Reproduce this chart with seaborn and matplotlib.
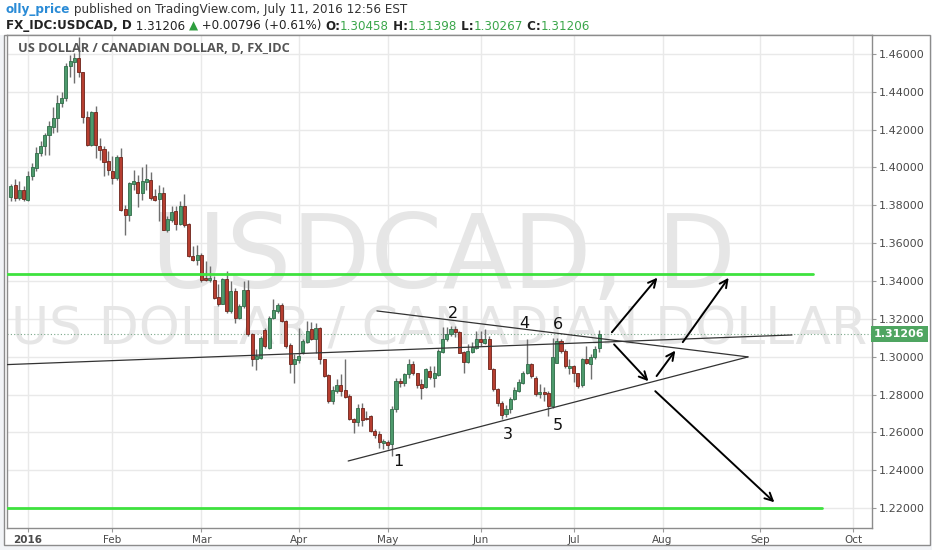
import numpy as np
import pandas as pd
import seaborn as sns
import matplotlib.pyplot as plt
from matplotlib.patches import Rectangle

# daily USDCAD candles (Dec 28 2015 .. Jul 11 2016)
opens = [1.3844, 1.3907, 1.3839, 1.3879, 1.3830, 1.3953, 1.3997, 1.4076, 1.4111, 1.4173,
         1.4213, 1.4261, 1.4340, 1.4366, 1.4537, 1.4556, 1.4577, 1.4503, 1.4266, 1.4120,
         1.4294, 1.4115, 1.4097, 1.4032, 1.3979, 1.3944, 1.4055, 1.3781, 1.3751, 1.3914,
         1.3925, 1.3865, 1.3925, 1.3936, 1.3848, 1.3834, 1.3865, 1.3668, 1.3725, 1.3768,
         1.3703, 1.3795, 1.3702, 1.3531, 1.3510, 1.3540, 1.3417, 1.3405, 1.3408, 1.3315,
         1.3281, 1.3412, 1.3241, 1.3347, 1.3206, 1.3267, 1.3352, 1.3118, 1.2986, 1.2995,
         1.3141, 1.3048, 1.3206, 1.3241, 1.3271, 1.3188, 1.3060, 1.2960, 1.2983, 1.3025,
         1.3078, 1.3144, 1.3095, 1.3153, 1.2986, 1.2902, 1.2766, 1.2819, 1.2849, 1.2823,
         1.2793, 1.2670, 1.2656, 1.2731, 1.2678, 1.2687, 1.2608, 1.2591, 1.2543, 1.2550,
         1.2538, 1.2722, 1.2872, 1.2863, 1.2907, 1.2960, 1.2912, 1.2854, 1.2842, 1.2924,
         1.2889, 1.2902, 1.3025, 1.3095, 1.3118, 1.3148, 1.3130, 1.3025, 1.2972, 1.3025,
         1.3048, 1.3095, 1.3074, 1.3095, 1.2937, 1.2831, 1.2757, 1.2696, 1.2726, 1.2779,
         1.2819, 1.2863, 1.2912, 1.2960, 1.2889, 1.2801, 1.2814, 1.2810, 1.2740, 1.2965,
         1.3083, 1.3030, 1.2942, 1.2951, 1.2912, 1.2849, 1.2986, 1.2960, 1.3000, 1.30458]
highs = [1.3914, 1.3939, 1.3927, 1.3900, 1.3979, 1.4023, 1.4108, 1.4138, 1.4181, 1.4243,
         1.4322, 1.4384, 1.4401, 1.4551, 1.4595, 1.4603, 1.4690, 1.4507, 1.4296, 1.4301,
         1.4327, 1.4155, 1.4111, 1.4085, 1.4058, 1.4067, 1.4103, 1.3804, 1.3921, 1.3985,
         1.3962, 1.4002, 1.4020, 1.3974, 1.3886, 1.3909, 1.3897, 1.3742, 1.3795, 1.3795,
         1.3821, 1.3862, 1.3707, 1.3584, 1.3593, 1.3549, 1.3505, 1.3478, 1.3426, 1.3382,
         1.3417, 1.3452, 1.3399, 1.3364, 1.3281, 1.3399, 1.3408, 1.3127, 1.3039, 1.3109,
         1.3153, 1.3215, 1.3303, 1.3285, 1.3285, 1.3194, 1.3074, 1.3013, 1.3153, 1.3092,
         1.3188, 1.3183, 1.3179, 1.3157, 1.2990, 1.2907, 1.2845, 1.2881, 1.2907, 1.2990,
         1.2802, 1.2678, 1.2749, 1.2754, 1.2714, 1.2691, 1.2617, 1.2608, 1.2564, 1.2561,
         1.2740, 1.2889, 1.2889, 1.2916, 1.2986, 1.2977, 1.2916, 1.2881, 1.2942, 1.2951,
         1.2951, 1.3039, 1.3158, 1.3158, 1.3162, 1.3165, 1.3136, 1.3030, 1.3065, 1.3078,
         1.3136, 1.3136, 1.3144, 1.3109, 1.2942, 1.2837, 1.2766, 1.2743, 1.2789, 1.2842,
         1.2881, 1.2925, 1.3092, 1.2969, 1.2898, 1.2854, 1.2842, 1.2819, 1.3100, 1.3100,
         1.3092, 1.3039, 1.2986, 1.2955, 1.2916, 1.2995, 1.3056, 1.3012, 1.3056, 1.31398]
lows = [1.3821, 1.3821, 1.3830, 1.3825, 1.3821, 1.3935, 1.3979, 1.4058, 1.4067, 1.4067,
        1.4181, 1.4190, 1.4322, 1.4349, 1.4480, 1.4445, 1.4480, 1.4234, 1.4115, 1.4111,
        1.4050, 1.4041, 1.3953, 1.3962, 1.3914, 1.3936, 1.3768, 1.3645, 1.3716, 1.3883,
        1.3791, 1.3830, 1.3883, 1.3830, 1.3821, 1.3716, 1.3668, 1.3658, 1.3710, 1.3667,
        1.3698, 1.3686, 1.3528, 1.3505, 1.3487, 1.3394, 1.3399, 1.3397, 1.3306, 1.3267,
        1.3276, 1.3232, 1.3232, 1.3176, 1.3197, 1.3259, 1.3109, 1.2951, 1.2930, 1.2986,
        1.3048, 1.3042, 1.3197, 1.3232, 1.3183, 1.3048, 1.2916, 1.2863, 1.2969, 1.3013,
        1.3074, 1.3088, 1.3021, 1.2960, 1.2895, 1.2754, 1.2749, 1.2810, 1.2793, 1.2784,
        1.2666, 1.2599, 1.2634, 1.2634, 1.2666, 1.2603, 1.2573, 1.2520, 1.2511, 1.2515,
        1.2476, 1.2708, 1.2842, 1.2845, 1.2889, 1.2902, 1.2837, 1.2775, 1.2837, 1.2881,
        1.2842, 1.2898, 1.3021, 1.3083, 1.3109, 1.3106, 1.3018, 1.2916, 1.2969, 1.3018,
        1.3042, 1.3056, 1.3065, 1.2933, 1.2819, 1.2740, 1.2670, 1.2684, 1.2705, 1.2772,
        1.2814, 1.2854, 1.2907, 1.2889, 1.2793, 1.2784, 1.2766, 1.2687, 1.2731, 1.2965,
        1.3021, 1.2942, 1.2907, 1.2866, 1.2837, 1.2842, 1.2960, 1.2880, 1.2990, 1.30267]
closes = [1.3904, 1.3839, 1.3883, 1.3834, 1.3956, 1.4000, 1.4076, 1.4115, 1.4173, 1.4217,
          1.4261, 1.4340, 1.4366, 1.4537, 1.4560, 1.4577, 1.4503, 1.4266, 1.4120, 1.4294,
          1.4120, 1.4094, 1.4027, 1.3985, 1.3944, 1.4055, 1.3777, 1.3751, 1.3918, 1.3927,
          1.3865, 1.3927, 1.3939, 1.3839, 1.3830, 1.3865, 1.3672, 1.3728, 1.3765, 1.3703,
          1.3795, 1.3698, 1.3531, 1.3510, 1.3540, 1.3408, 1.3405, 1.3415, 1.3311, 1.3276,
          1.3412, 1.3241, 1.3347, 1.3206, 1.3267, 1.3352, 1.3118, 1.2986, 1.3004, 1.3100,
          1.3056, 1.3206, 1.3245, 1.3271, 1.3188, 1.3056, 1.2960, 1.2986, 1.3004, 1.3083,
          1.3136, 1.3095, 1.3153, 1.2986, 1.2898, 1.2766, 1.2823, 1.2849, 1.2819, 1.2789,
          1.2670, 1.2656, 1.2731, 1.2666, 1.2670, 1.2608, 1.2585, 1.2547, 1.2555, 1.2533,
          1.2722, 1.2872, 1.2863, 1.2907, 1.2960, 1.2912, 1.2849, 1.2837, 1.2937, 1.2895,
          1.2912, 1.3030, 1.3095, 1.3118, 1.3144, 1.3130, 1.3021, 1.2972, 1.3030, 1.3053,
          1.3092, 1.3078, 1.3095, 1.2937, 1.2828, 1.2754, 1.2691, 1.2726, 1.2779, 1.2824,
          1.2867, 1.2912, 1.2960, 1.2898, 1.2801, 1.2814, 1.2801, 1.2740, 1.3000, 1.3083,
          1.3030, 1.2951, 1.2951, 1.2912, 1.2846, 1.2986, 1.2965, 1.3000, 1.3042, 1.31206]

last_price = 1.31206
price_ticks = [1.22, 1.24, 1.26, 1.28, 1.30, 1.32, 1.34, 1.36, 1.38, 1.40, 1.42, 1.44, 1.46]
month_labels = ['2016', 'Feb', 'Mar', 'Apr', 'May', 'Jun', 'Jul', 'Aug', 'Sep', 'Oct']

# drawings on the chart, in (bar number, price)
green_levels = [1.3437, 1.2200]
green_level_end = [189.6, 191.7]
trend_lines = [[(-1.4, 1.2958), (184.6, 1.3115)],
               [(86.5, 1.3242), (174.2, 1.2999)],
               [(79.7, 1.2449), (174.2, 1.2999)]]
arrows = [[(141.6, 1.3118), (153.2, 1.3429)],
          [(142.1, 1.3076), (151.1, 1.2860)],
          [(152.2, 1.2886), (157.4, 1.3044)],
          [(158.4, 1.3065), (170.0, 1.3429)],
          [(151.8, 1.2828), (180.9, 1.2221)]]
wave_labels = ['1', '2', '3', '4', '5', '6']
wave_x = [91.5, 104.5, 117.5, 121.3, 129.3, 129.3]
wave_y = [1.2444, 1.3231, 1.2589, 1.3178, 1.2637, 1.3168]

# weekday bars, the feed has no Jan 1
days = pd.bdate_range('2015-12-28', '2016-10-31')
days = days[days != pd.Timestamp('2016-01-01')]
month_pos = [i for i in range(1, len(days)) if days[i].month != days[i - 1].month]

opens = np.array(opens)
closes = np.array(closes)
highs = np.array(highs)
lows = np.array(lows)
x = np.arange(len(closes))
up = closes >= opens

sns.set_theme(style='white')
plt.rcParams['font.family'] = ['DejaVu Sans']

W, H = 932, 550
fig = plt.figure(figsize=(W / 100, H / 100), dpi=100, facecolor='#f2f4f7')
# white header strip and chart panel
fig.patches.append(Rectangle((0, (H - 35) / H), 1, 35 / H, transform=fig.transFigure,
                             facecolor='white', edgecolor='none', zorder=-5))
fig.patches.append(Rectangle((4 / W, (H - 545) / H), 926 / W, 510 / H, transform=fig.transFigure,
                             facecolor='white', edgecolor='#8c8c8c', lw=1, zorder=-4))

ax = fig.add_axes([6.7 / W, (H - 528) / H, (872 - 6.7) / W, (528 - 35) / H])
ax.set_facecolor('white')
ax.set_xlim(-1.0, 203.5)
ax.set_ylim(1.2095, 1.4700)

for p in price_ticks:
    ax.axhline(p, color='#e9e9e9', lw=1, zorder=0)
for m in month_pos:
    ax.axvline(m, color='#e9e9e9', lw=1, zorder=0)

# watermark
ax.text(0.505, 0.545, 'USDCAD, D', transform=ax.transAxes, ha='center', va='center',
        fontsize=74, color='#e6e6e6', zorder=0.5)
ax.text(0.005, 0.40, 'US DOLLAR / CANADIAN DOLLAR', transform=ax.transAxes, ha='left', va='center',
        fontsize=37.5, color='#e6e6e6', zorder=0.5)
ax.text(11 / 865, 1 - 14 / 493, 'US DOLLAR / CANADIAN DOLLAR, D, FX_IDC', transform=ax.transAxes,
        ha='left', va='center', fontsize=9.2, fontweight='bold', color='#555555',
        family='Open Sans', zorder=6)

# candles
ax.vlines(x, lows, highs, color='#6f6f6f', lw=1, zorder=2)
ax.bar(x[up], (closes - opens)[up], bottom=opens[up], width=0.72, color='#4d9a6c',
       edgecolor='#2f6b48', lw=0.6, zorder=3)
ax.bar(x[~up], (closes - opens)[~up], bottom=opens[~up], width=0.72, color='#b63e30',
       edgecolor='#6e241b', lw=0.6, zorder=3)

# last price line
ax.axhline(last_price, color='#7aa88a', lw=0.8, ls=(0, (1, 2)), zorder=1)

for lvl, end in zip(green_levels, green_level_end):
    sns.lineplot(x=[-1.0, end], y=[lvl, lvl], ax=ax, color='#3ee23e', lw=2, zorder=4)
for (x0, y0), (x1, y1) in trend_lines:
    sns.lineplot(x=[x0, x1], y=[y0, y1], ax=ax, color='#333333', lw=0.9, zorder=4)
for (x0, y0), (x1, y1) in arrows:
    ax.annotate('', xy=(x1, y1), xytext=(x0, y0),
                arrowprops=dict(arrowstyle='->', color='black', lw=1.4, mutation_scale=14),
                zorder=5)
for t, wx, wy in zip(wave_labels, wave_x, wave_y):
    ax.text(wx, wy, t, ha='center', va='center', fontsize=11.5, color='#111111', zorder=6)

# axes
for s in ax.spines.values():
    s.set_color('#8c8c8c')
    s.set_linewidth(1)
ax.yaxis.tick_right()
ax.set_yticks(price_ticks)
ax.set_yticklabels([f'{p:.5f}' for p in price_ticks])
ax.set_xticks(month_pos)
ax.set_xticklabels(month_labels)
ax.tick_params(axis='both', length=3, width=0.8, color='#9a9a9a', labelsize=8,
               labelcolor='#4a4a4a', pad=2, direction='out')
ax.tick_params(axis='x', bottom=True, labelsize=7.5)
ax.tick_params(axis='y', right=True)
ax.get_xticklabels()[0].set_fontweight('bold')
ax.set_xlabel('')
ax.set_ylabel('')

ax.annotate(f'{last_price:.5f}', xy=(1.0, last_price), xycoords=('axes fraction', 'data'),
            xytext=(1.5, 0), textcoords='offset points', ha='left', va='center', fontsize=8,
            fontweight='bold', color='white',
            bbox=dict(boxstyle='square,pad=0.3', fc='#4fa561', ec='none'), zorder=10)

# header lines, drawn piece by piece and fitted to the reference width
fig.canvas.draw()
renderer = fig.canvas.get_renderer()


def text_run(x0, y0, parts, size, x_end):
    for attempt in range(2):
        xp = x0
        made = []
        for s, col, wt in parts:
            t = fig.text(xp / W, 1 - y0 / H, s, fontsize=size, color=col, fontweight=wt,
                         family=['DejaVu Sans'], va='center', ha='left')
            made.append(t)
            xp += t.get_window_extent(renderer).width
        if attempt == 0:
            size = size * (x_end - x0) / (xp - x0)
            for t in made:
                t.remove()


text_run(6, 10, [('olly_price', '#2a8bd6', 'bold'),
                 (' published on TradingView.com, July 11, 2016 12:56 EST', '#333333', 'normal')],
         8.5, 406)
green = '#3aa64a'
text_run(6, 26, [('FX_IDC:USDCAD, D', '#222222', 'bold'), (' 1.31206 ', '#222222', 'normal'),
                 ('\u25b2', '#2e9e3e', 'normal'), (' +0.00796 (+0.61%) ', '#222222', 'normal'),
                 ('O:', '#222222', 'bold'), ('1.30458', green, 'normal'),
                 (' H:', '#222222', 'bold'), ('1.31398', green, 'normal'),
                 (' L:', '#222222', 'bold'), ('1.30267', green, 'normal'),
                 (' C:', '#222222', 'bold'), ('1.31206', green, 'normal')], 8, 587)

fig.savefig('out.png', dpi=100, facecolor=fig.get_facecolor())
